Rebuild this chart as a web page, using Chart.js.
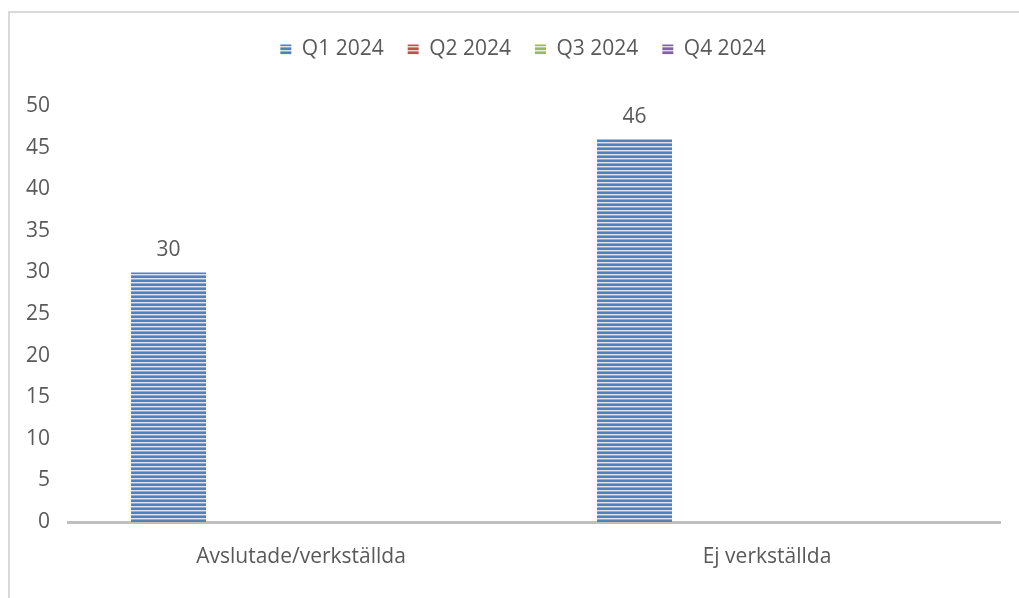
<!DOCTYPE html>
<html>
<head>
<meta charset="utf-8">
<script src="https://cdn.jsdelivr.net/npm/chart.js@4.4.1/dist/chart.umd.min.js"></script>
<style>
  html, body { margin: 0; padding: 0; background: #fff; }
  #wrap { width: 1019px; height: 598px; position: relative; }
</style>
</head>
<body>
<div id="wrap"><canvas id="quarter_chart"></canvas></div>
<script>
const categories = ['Avslutade/verkställda', 'Ej verkställda'];
const seriesNames = ['Q1 2024', 'Q2 2024', 'Q3 2024', 'Q4 2024'];
const q1Values = [30, 46];
const q2Values = [null, null];
const q3Values = [null, null];
const q4Values = [null, null];
const yTicks = [0, 5, 10, 15, 20, 25, 30, 35, 40, 45, 50];

const textColor = '#595959';
const fontFamily = '"Open Sans", "DejaVu Sans", sans-serif';
const fontSize = 21;

// striped fill like the office chart style
function stripes(dark, mid, light){
    const c = document.createElement('canvas');
    c.width = 4; c.height = 4;
    const g = c.getContext('2d');
    g.fillStyle = dark;  g.fillRect(0, 0, 4, 1);
    g.fillStyle = dark;  g.fillRect(0, 1, 4, 1);
    g.fillStyle = light; g.fillRect(0, 2, 4, 1);
    g.fillStyle = mid;   g.fillRect(0, 3, 4, 1);
    return g.createPattern(c, 'repeat');
}

const blue = stripes('#4f81bd', '#8aabd8', '#dbe5f3');
const red = stripes('#c0504d', '#d88a88', '#f2d6d5');
const green = stripes('#9bbb59', '#bcd392', '#e8f0da');
const purple = stripes('#8064a2', '#a894c4', '#e0d9eb');

// values above the bars
const valueLabels = {
    id: 'valueLabels',
    afterDatasetsDraw(chart){
        const ctx = chart.ctx;
        ctx.save();
        ctx.font = fontSize + 'px ' + fontFamily;
        ctx.fillStyle = textColor;
        ctx.textAlign = 'center';
        ctx.textBaseline = 'bottom';
        chart.data.datasets.forEach(function(ds, i){
            const meta = chart.getDatasetMeta(i);
            meta.data.forEach(function(bar, j){
                if(ds.data[j] == null) return;
                ctx.fillText(ds.data[j], bar.x, bar.y - 12);
            });
        });
        ctx.restore();
    }
};

// thin frame around the chart
const frame = {
    id: 'frame',
    beforeDraw(chart){
        const ctx = chart.ctx;
        ctx.save();
        ctx.strokeStyle = '#d9d9d9';
        ctx.lineWidth = 2;
        ctx.strokeRect(9, 12, 1200, 800);
        ctx.restore();
    }
};

// extra room under the legend, and legend centred a bit to the right
const legendMargin = {
    id: 'legendMargin',
    beforeInit(chart){
        const fit = chart.legend.fit;
        chart.legend.fit = function(){
            fit.bind(chart.legend)();
            this.height += 36;
        };
    },
    afterLayout(chart){
        chart.legend.left += 46;
    }
};

const ctx = document.getElementById('quarter_chart').getContext('2d');
var chart = new Chart(ctx, {
    type: 'bar',
    data: {
        labels: categories,
        datasets: [
            { label: seriesNames[0], data: q1Values, backgroundColor: blue },
            { label: seriesNames[1], data: q2Values, backgroundColor: red },
            { label: seriesNames[2], data: q3Values, backgroundColor: green },
            { label: seriesNames[3], data: q4Values, backgroundColor: purple }
        ]
    },
    options: {
        responsive: true,
        maintainAspectRatio: false,
        animation: false,
        layout: { padding: { top: 15, right: 19, bottom: 0, left: 0 } },
        datasets: { bar: { categoryPercentage: 0.758, barPercentage: 0.849 } },
        plugins: {
            legend: {
                position: 'top',
                labels: {
                    boxWidth: 11,
                    boxHeight: 10,
                    padding: 24,
                    color: textColor,
                    font: { family: fontFamily, size: fontSize }
                }
            },
            tooltip: { enabled: false }
        },
        scales: {
            x: {
                grid: { display: false, drawTicks: false },
                border: { display: true, color: '#bfbfbf', width: 3 },
                ticks: { color: textColor, padding: 22, font: { family: fontFamily, size: fontSize } },
                afterFit: function(scale){ scale.height = 76; }
            },
            y: {
                min: 0,
                max: 50,
                afterBuildTicks: function(scale){
                    scale.ticks = yTicks.map(function(v){ return { value: v }; });
                },
                grid: { display: false, drawTicks: false },
                border: { display: false },
                ticks: { color: textColor, padding: 18, font: { family: fontFamily, size: fontSize } },
                afterFit: function(scale){ scale.width = 68; }
            }
        }
    },
    plugins: [frame, valueLabels, legendMargin]
});
</script>
</body>
</html>
